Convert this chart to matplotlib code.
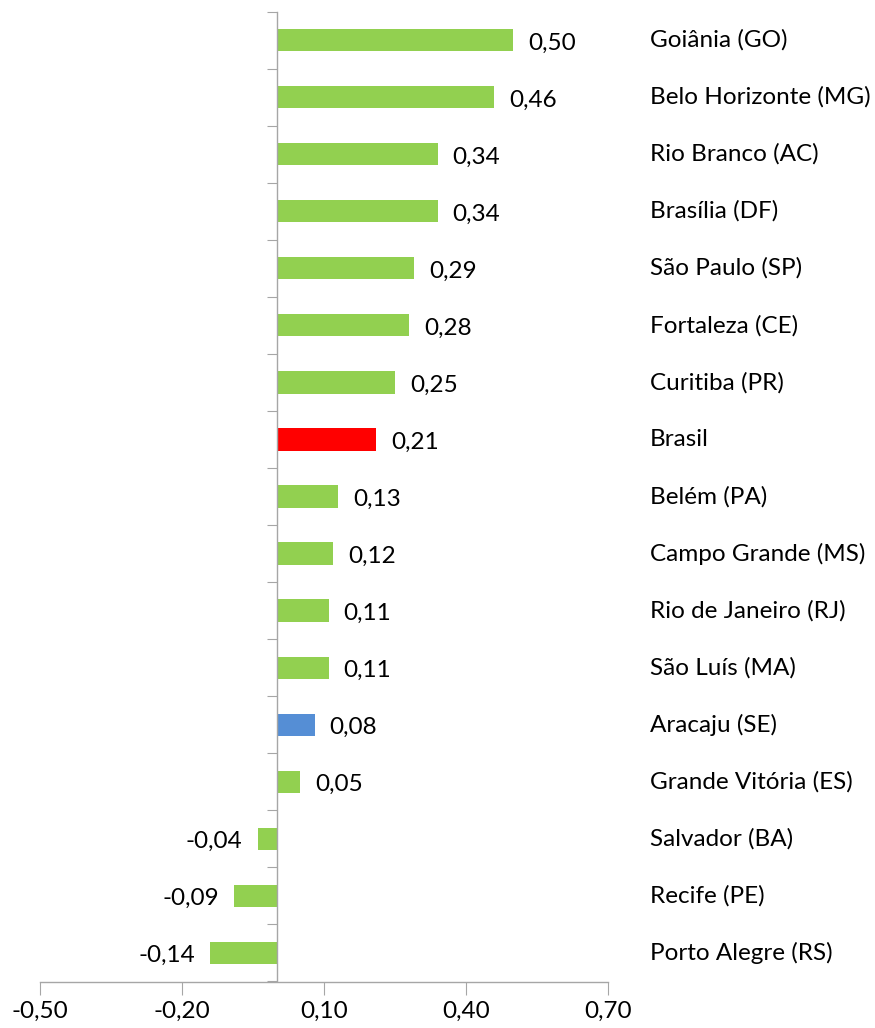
import matplotlib
matplotlib.use("Agg")
import matplotlib.pyplot as plt
from matplotlib.transforms import blended_transform_factory

categories = ["Goiânia (GO)", "Belo Horizonte (MG)", "Rio Branco (AC)", "Brasília (DF)",
              "São Paulo (SP)", "Fortaleza (CE)", "Curitiba (PR)", "Brasil", "Belém (PA)",
              "Campo Grande (MS)", "Rio de Janeiro (RJ)", "São Luís (MA)", "Aracaju (SE)",
              "Grande Vitória (ES)", "Salvador (BA)", "Recife (PE)", "Porto Alegre (RS)"]
values = [0.50, 0.46, 0.34, 0.34, 0.29, 0.28, 0.25, 0.21, 0.13, 0.12, 0.11, 0.11,
          0.08, 0.05, -0.04, -0.09, -0.14]
xticks = [-0.50, -0.20, 0.10, 0.40, 0.70]

GREEN = "#92D050"
RED = "#FF0000"
BLUE = "#558ED5"
colors = [RED if c == "Brasil" else BLUE if c.startswith("Aracaju") else GREEN for c in categories]

plt.rcParams['font.family'] = ['Lato', 'DejaVu Sans']
FS = 17.5

fig = plt.figure(figsize=(8.75, 10.28), dpi=100)
ax = fig.add_axes([40/875, 1 - 981.5/1028, (608-40)/875, 970/1028])

ypos = list(range(len(categories)))
ax.barh(ypos, values, height=0.39, color=colors, zorder=2)
ax.set_ylim(len(categories) - 0.5, -0.5)
ax.set_xlim(-0.5, 0.7)

for s in ["top", "right"]:
    ax.spines[s].set_visible(False)
ax.spines["left"].set_position(("data", 0))
for s in ["left", "bottom"]:
    ax.spines[s].set_color("#A6A6A6")
    ax.spines[s].set_linewidth(1.0)

ax.set_xticks(xticks)
ax.set_xticklabels([f"{t:.2f}".replace(".", ",") for t in xticks], fontsize=FS)
ax.tick_params(axis="x", direction="out", length=9, color="#A6A6A6", pad=5)
ax.set_yticks([i - 0.5 for i in range(len(categories) + 1)])
ax.set_yticklabels([])
ax.tick_params(axis="y", direction="out", length=7, color="#A6A6A6")

off = 15 / 473
for y, v in zip(ypos, values):
    lab = f"{v:.2f}".replace(".", ",")
    if v >= 0:
        ax.text(v + off, y + 0.05, lab, ha="left", va="center", fontsize=FS)
    else:
        ax.text(v - off, y + 0.05, lab, ha="right", va="center", fontsize=FS)

trans = blended_transform_factory(fig.transFigure, ax.transData)
for y, c in zip(ypos, categories):
    ax.text(650/875, y, c, transform=trans, ha="left", va="center", fontsize=FS, clip_on=False)

fig.savefig("out.png", dpi=100)
